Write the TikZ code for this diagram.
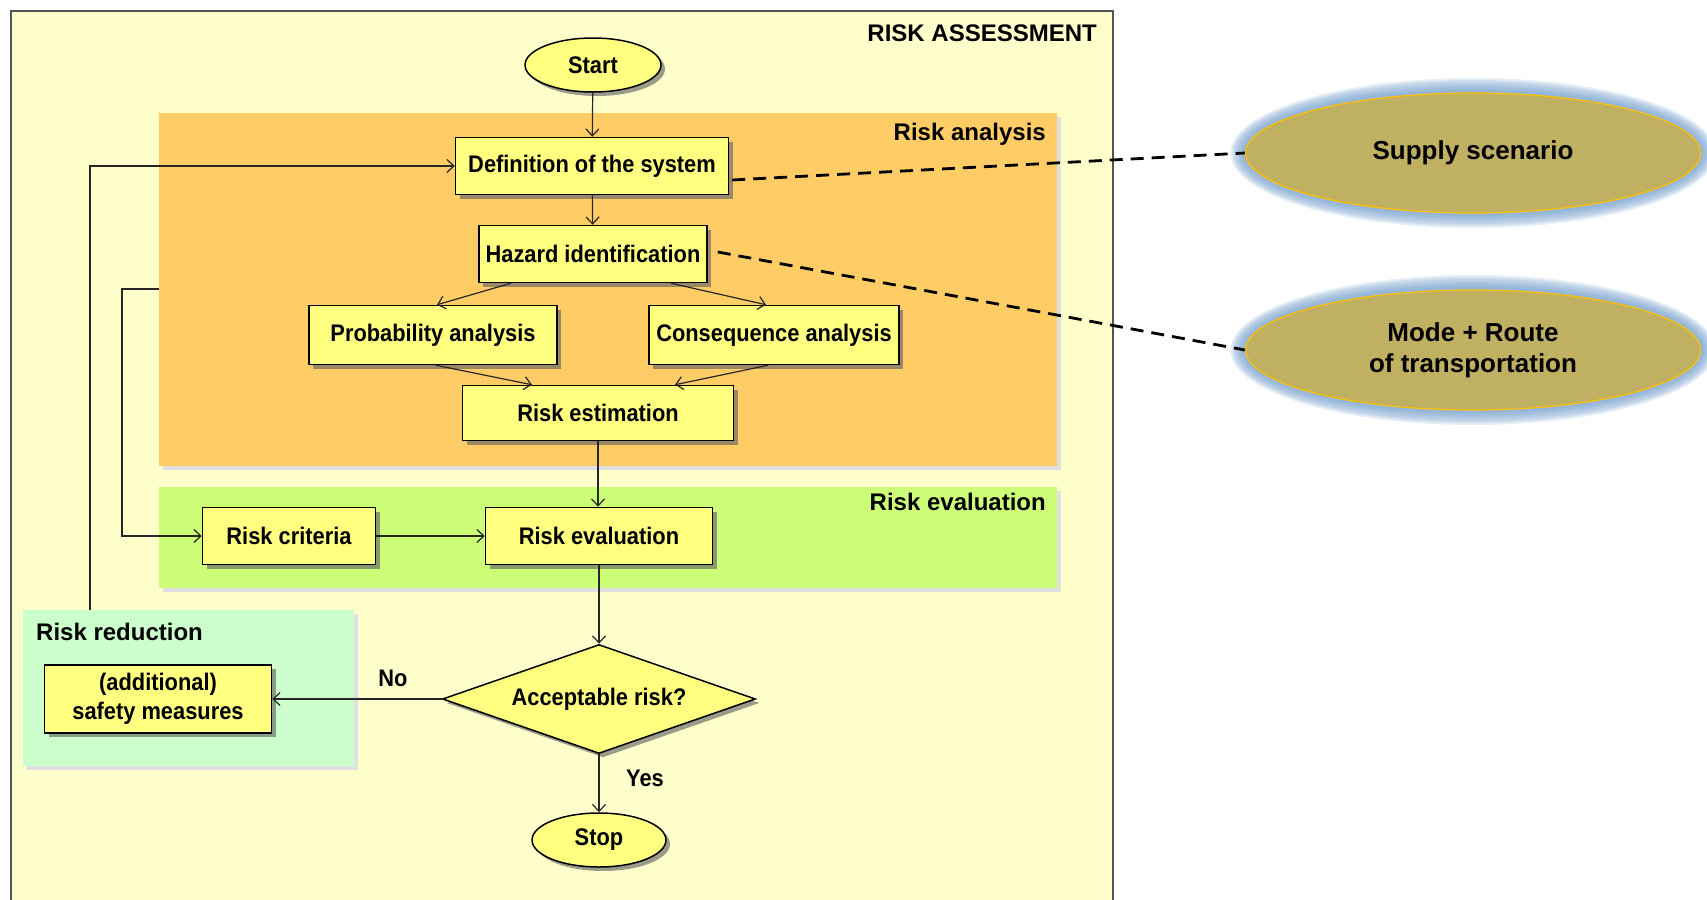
\documentclass[tikz,border=0pt]{standalone}
\usepackage{fontspec}
\setmainfont{Liberation Sans}
\newfontfamily\flowfont[FakeStretch=0.91]{Liberation Sans Bold}
\usetikzlibrary{shapes.geometric,arrows.meta,shadows}

\definecolor{paper}{HTML}{FFFFCC}
\definecolor{framegray}{HTML}{555555}
\definecolor{analysisorange}{HTML}{FFCC66}
\definecolor{evalgreen}{HTML}{CCFF77}
\definecolor{reductmint}{HTML}{CCFFCC}
\definecolor{boxyellow}{HTML}{FFFF80}
\definecolor{khaki}{HTML}{BFB062}
\definecolor{rimgold}{HTML}{FFC000}
\definecolor{glowblue}{HTML}{7BA3CE}

\begin{document}
\begin{tikzpicture}[x=1pt,y=-1pt,
  every node/.style={font=\flowfont\fontsize{24}{29}\selectfont},
  boxshadow/.style={drop shadow={shadow xshift=4pt,shadow yshift=-4pt,fill=black!60,opacity=.65}},
  stepbox/.style={rectangle,draw=black,line width=1.5pt,fill=boxyellow,inner sep=0pt,boxshadow},
  termnode/.style={ellipse,draw=black,line width=1.5pt,fill=boxyellow,inner sep=0pt,
    minimum width=136pt,minimum height=54pt,boxshadow},
  decision/.style={diamond,draw=black,line width=1.5pt,fill=boxyellow,inner sep=0pt,aspect=2.87,
    minimum width=313pt,minimum height=109pt,boxshadow},
  panellabel/.style={font=\rmfamily\bfseries\fontsize{24}{28}\selectfont,inner sep=0pt},
  scenario/.style={ellipse,draw=rimgold,line width=1.2pt,fill=khaki,align=center,
    minimum width=455pt,minimum height=120pt,
    font=\rmfamily\bfseries\fontsize{26}{31}\selectfont},
  arr/.style={draw=black!85,line width=1.2pt,-{Straight Barb[length=7pt,width=13pt,line width=1.2pt]}},
  link/.style={draw=black,line width=2.8pt,dash pattern=on 13pt off 8pt},
  panelshadow/.style={fill=black!12}
]
\useasboundingbox (0,0) rectangle (1707,899);

% outer frame of the assessment
\draw[framegray,line width=1.5pt,fill=paper] (11,11) rectangle (1113,910);
\node[panellabel,anchor=east] (titleA) at (1097,33) {RISK ASSESSMENT};

% coloured stage panels
\fill[panelshadow] (163,117) rectangle (1061,470);
\fill[analysisorange] (159,113) rectangle (1057,466);
\node[panellabel,anchor=east] (titleB) at (1046,134) {Risk analysis};

\fill[panelshadow] (163,491) rectangle (1061,592);
\fill[evalgreen] (159,487) rectangle (1057,588);
\node[panellabel,anchor=east] (titleC) at (1046,502) {Risk evaluation};

\fill[panelshadow] (27,614) rectangle (358,770);
\fill[reductmint] (23,610) rectangle (354,766);
\node[panellabel,anchor=west] (titleD) at (36,632) {Risk reduction};

% flowchart steps
\node[termnode] (start) at (593,65) {Start};
\node[stepbox,minimum width=273pt,minimum height=57pt] (def) at (592,166) {Definition of the system};
\node[stepbox,minimum width=228pt,minimum height=57pt] (haz) at (593,254) {Hazard identification};
\node[stepbox,minimum width=248pt,minimum height=59pt] (prob) at (433,335) {Probability analysis};
\node[stepbox,minimum width=250pt,minimum height=59pt] (cons) at (774,335) {Consequence analysis};
\node[stepbox,minimum width=271pt,minimum height=55pt] (est) at (598,413) {Risk estimation};
\node[stepbox,minimum width=173pt,minimum height=57pt] (crit) at (289,536) {Risk criteria};
\node[stepbox,minimum width=227pt,minimum height=57pt] (eval) at (599,536) {Risk evaluation};
\node[decision] (acc) at (599,699) {Acceptable risk?};
\node[stepbox,minimum width=227pt,minimum height=68pt,align=center] (safe) at (158,699) {(additional)\\safety measures};
\node[termnode,minimum width=134pt] (stop) at (599,840) {Stop};

% flow connectors
\draw[arr] (start) -- (def);
\draw[arr] (def) -- (haz);
\draw[arr] ([xshift=-82pt]haz.south) -- ([xshift=4pt]prob.north);
\draw[arr] ([xshift=78pt]haz.south) -- ([xshift=-8pt]cons.north);
\draw[arr] ([xshift=3pt]prob.south) -- ([xshift=-66pt]est.north);
\draw[arr] ([xshift=-6pt]cons.south) -- ([xshift=77pt]est.north);
\draw[arr] (est.south) -- (est.south |- eval.north);
\draw[arr] (crit) -- (eval);
\draw[arr] (eval) -- (acc);
\draw[arr] (acc) -- (safe);
\draw[arr] (acc) -- (stop);
\node (no) at (393,678) {No};
\node (yes) at (645,778) {Yes};

% feedback loops
\coordinate (loopA) at (90,610);
\draw[arr] (loopA) |- (def.west);
\coordinate (loopB) at (159,289);
\coordinate (loopBcorner) at (122,289);
\draw[arr] (loopB) -- (loopBcorner) |- (crit.west);

% scenario ellipses with soft glow
\foreach \k in {15,13,...,1} {
  \fill[glowblue,opacity=.2] (1473,153) ellipse [x radius={227.5pt+\k pt}, y radius={60pt+\k pt}];
  \fill[glowblue,opacity=.2] (1473,350) ellipse [x radius={227.5pt+\k pt}, y radius={60pt+\k pt}];
}
\node[scenario] (supply) at (1473,153) {Supply scenario};
\node[scenario] (mode) at (1473,350) {Mode + Route\\of transportation};

% dashed links
\draw[link] ([xshift=3pt,yshift=-14pt]def.east) -- (supply.west);
\draw[link] ([xshift=10pt,yshift=2pt]haz.east) -- (mode.west);
\end{tikzpicture}
\end{document}
